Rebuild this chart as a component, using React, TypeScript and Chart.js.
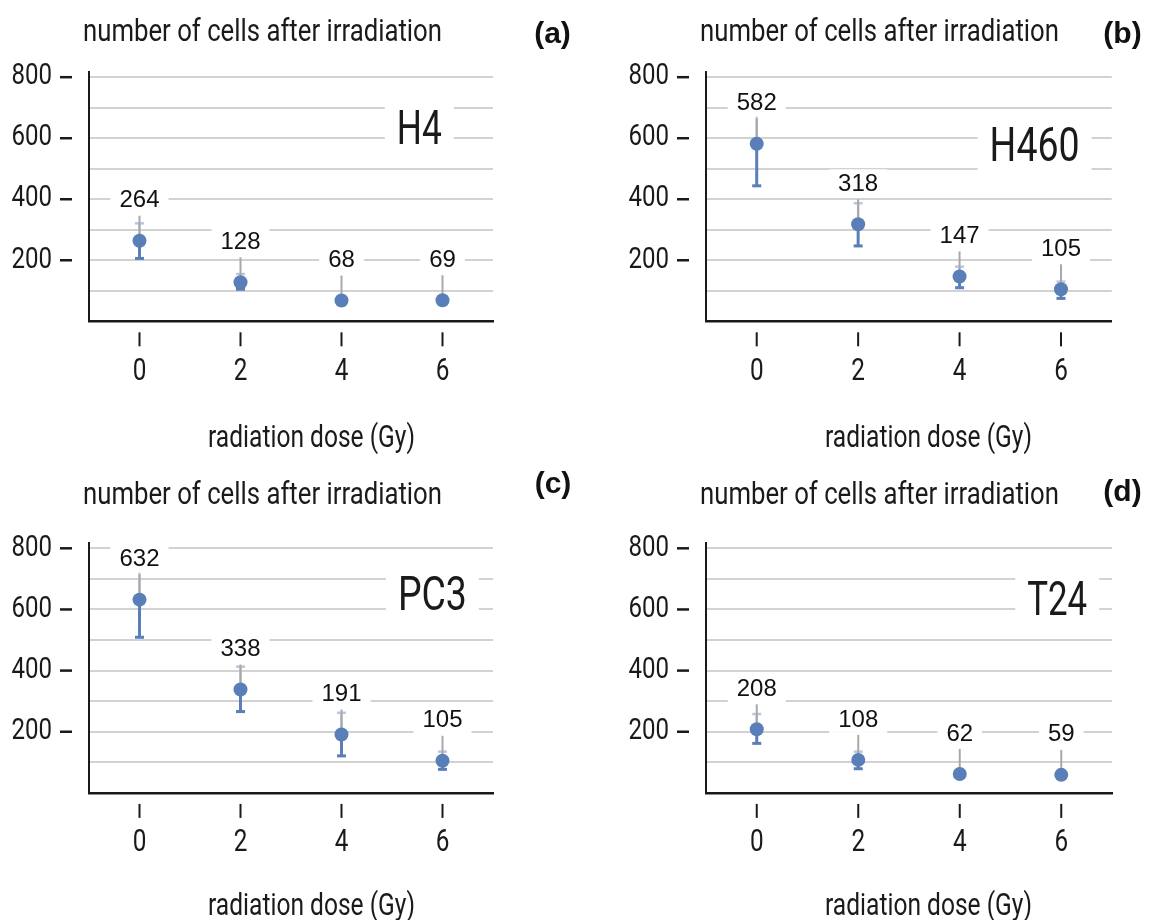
import React, { useEffect, useRef } from 'react';
import { Chart, registerables } from 'chart.js';

Chart.register(...registerables);

// ---------- data ----------
const doses = ['0', '2', '4', '6'];
const yGridValues = [0, 100, 200, 300, 400, 500, 600, 700, 800];
const yTickLabels = [200, 400, 600, 800];
const yMax = 818;

const h4Values = [264, 128, 68, 69];
const h4Lower = [206, 105, 62, 63];
const h4Upper = [321, 155, 74, 75];

const h460Values = [582, 318, 147, 105];
const h460Lower = [444, 247, 110, 75];
const h460Upper = [700, 387, 179, 130];

const pc3Values = [632, 338, 191, 105];
const pc3Lower = [509, 266, 121, 77];
const pc3Upper = [740, 413, 262, 135];

const t24Values = [208, 108, 62, 59];
const t24Lower = [162, 79, 57, 54];
const t24Upper = [258, 135, 67, 64];

const cellLines = ['H4', 'H460', 'PC3', 'T24'];
const panelLetters = ['(a)', '(b)', '(c)', '(d)'];
const yCaption = 'number of cells after irradiation';
const xCaption = 'radiation dose (Gy)';

const seriesValues = [h4Values, h460Values, pc3Values, t24Values];
const seriesLower = [h4Lower, h460Lower, pc3Lower, t24Lower];
const seriesUpper = [h4Upper, h460Upper, pc3Upper, t24Upper];

// ---------- layout / style ----------
const COND = "Roboto, 'Liberation Sans', sans-serif";
const ARIAL = "'Liberation Sans', Arial, sans-serif";
const INK = '#1a1a1a';
const BLUE = '#5a7eb8';
const BLUE_LIGHT = '#b9c7de';
const GRID = '#d2d2d2';
const LEADER = '#a8a8a8';

const CW = 575;
const CH = 460;

const captionWidth = 359;
const xTitleWidth = 207;
const nameWidths = [45, 90, 69, 60];
const yTickSqueeze = 0.83;
const xTickSqueeze = 0.76;

const layouts = [
  { left: 0, top: 0, pad: { left: 89, right: 82, top: 71.7, bottom: 138.7 }, caption: [83, 41], xTitle: [311.5, 446.5], letter: [552.5, 35], name: [2.77, 637] },
  { left: 575, top: 0, pad: { left: 131, right: 38.3, top: 71.7, bottom: 138.7 }, caption: [125, 41], xTitle: [353.5, 446.5], letter: [547.5, 35], name: [2.74, 581] },
  { left: 0, top: 460, pad: { left: 89, right: 82, top: 82.8, bottom: 127.1 }, caption: [83, 44], xTitle: [311.5, 454.5], letter: [553, 25], name: [2.9, 653] },
  { left: 575, top: 460, pad: { left: 131, right: 38, top: 82.8, bottom: 127.1 }, caption: [125, 44], xTitle: [353.5, 454.5], letter: [547.5, 33], name: [2.96, 639] },
];

function line(ctx: CanvasRenderingContext2D, x1: number, y1: number, x2: number, y2: number) {
  ctx.beginPath();
  ctx.moveTo(x1, y1);
  ctx.lineTo(x2, y2);
  ctx.stroke();
}

// draw text squeezed horizontally to a target width
function fitText(ctx: CanvasRenderingContext2D, text: string, x: number, y: number, align: CanvasTextAlign, targetW: number) {
  const w = ctx.measureText(text).width;
  const sx = targetW / w;
  ctx.save();
  ctx.translate(x, y);
  ctx.scale(sx, 1);
  ctx.textAlign = align;
  ctx.fillText(text, 0, 0);
  ctx.restore();
}

// tick labels positioned by the scale, rendered condensed
function condenseLabels(scale: any, sx: number) {
  if (scale.__condensed) return;
  scale.__condensed = true;
  scale.drawLabels = function (chartArea: any) {
    const ctx = this.ctx;
    const items = this.getLabelItems(chartArea);
    for (const item of items) {
      const o = item.options;
      if (!item.label) continue;
      ctx.save();
      ctx.translate(o.translation[0], o.translation[1]);
      ctx.scale(sx, 1);
      ctx.font = item.font.string;
      ctx.fillStyle = o.color;
      ctx.textAlign = o.textAlign;
      ctx.textBaseline = o.textBaseline;
      ctx.fillText(String(item.label), 0, item.textOffset);
      ctx.restore();
    }
  };
}

function makePlugin(idx: number) {
  const L = layouts[idx];
  const values = seriesValues[idx];
  const lower = seriesLower[idx];
  const upper = seriesUpper[idx];
  return {
    id: 'decor' + idx,
    beforeDraw(chart: any) {
      condenseLabels(chart.scales.y, yTickSqueeze);
      condenseLabels(chart.scales.x, xTickSqueeze);
    },
    beforeDatasetsDraw(chart: any) {
      const { ctx, chartArea: ca, scales } = chart;
      const x = scales.x;
      const y = scales.y;
      ctx.save();
      // y tick dashes
      ctx.strokeStyle = INK;
      ctx.lineWidth = 2.5;
      yTickLabels.forEach((v) => {
        const py = y.getPixelForValue(v);
        line(ctx, ca.left - 29, py, ca.left - 17, py);
      });
      // x tick marks (detached)
      ctx.lineWidth = 2;
      doses.forEach((_d, i) => {
        const px = x.getPixelForValue(i);
        line(ctx, px, ca.bottom + 11, px, ca.bottom + 25);
      });
      // cell line name with white box
      ctx.font = `48px ${COND}`;
      const nx = x.getPixelForValue(L.name[0]);
      const ny = y.getPixelForValue(L.name[1]);
      const nw = nameWidths[idx];
      ctx.fillStyle = '#ffffff';
      ctx.fillRect(nx - nw / 2 - 12, ny - 27, nw + 24, 54);
      ctx.fillStyle = INK;
      ctx.textBaseline = 'alphabetic';
      fitText(ctx, cellLines[idx], nx, ny + 17, 'center', nw);
      // error bars + leader lines
      values.forEach((v, i) => {
        const px = x.getPixelForValue(i);
        const py = y.getPixelForValue(v);
        const pl = y.getPixelForValue(lower[i]);
        const pu = y.getPixelForValue(upper[i]);
        ctx.strokeStyle = BLUE_LIGHT;
        ctx.lineWidth = 2.5;
        line(ctx, px, py, px, pu);
        line(ctx, px - 4.5, pu, px + 4.5, pu);
        ctx.strokeStyle = BLUE;
        ctx.lineWidth = 3;
        line(ctx, px, py, px, pl);
        line(ctx, px - 4.5, pl, px + 4.5, pl);
        ctx.strokeStyle = LEADER;
        ctx.lineWidth = 2;
        line(ctx, px, py, px, py - 25);
      });
      ctx.restore();
    },
    afterDatasetsDraw(chart: any) {
      const { ctx, scales } = chart;
      const x = scales.x;
      const y = scales.y;
      ctx.save();
      ctx.font = `24px ${ARIAL}`;
      ctx.textAlign = 'center';
      ctx.textBaseline = 'middle';
      values.forEach((v, i) => {
        const px = x.getPixelForValue(i);
        const py = y.getPixelForValue(v) - 41;
        const t = String(v);
        const w = ctx.measureText(t).width;
        ctx.fillStyle = '#ffffff';
        ctx.fillRect(px - w / 2 - 9, py - 14, w + 18, 28);
        ctx.fillStyle = '#111111';
        ctx.fillText(t, px, py + 1);
      });
      ctx.restore();
    },
    afterDraw(chart: any) {
      const { ctx } = chart;
      ctx.save();
      ctx.fillStyle = INK;
      ctx.textBaseline = 'alphabetic';
      ctx.font = `31px ${COND}`;
      fitText(ctx, yCaption, L.caption[0], L.caption[1], 'left', captionWidth);
      fitText(ctx, xCaption, L.xTitle[0], L.xTitle[1], 'center', xTitleWidth);
      ctx.font = `bold 30px ${ARIAL}`;
      ctx.textAlign = 'center';
      ctx.textBaseline = 'middle';
      ctx.fillStyle = '#111111';
      ctx.fillText(panelLetters[idx], L.letter[0], L.letter[1]);
      ctx.restore();
    },
  };
}

function Panel({ idx }: { idx: number }) {
  const ref = useRef<HTMLCanvasElement | null>(null);
  useEffect(() => {
    if (!ref.current) return;
    const L = layouts[idx];
    const chart = new Chart(ref.current, {
      type: 'line',
      data: {
        labels: doses,
        datasets: [
          {
            label: cellLines[idx],
            data: seriesValues[idx],
            showLine: false,
            pointRadius: 7,
            pointHoverRadius: 7,
            pointBackgroundColor: BLUE,
            pointBorderWidth: 0,
            borderColor: BLUE,
          },
        ],
      },
      options: {
        responsive: false,
        animation: false,
        events: [],
        layout: { padding: L.pad },
        plugins: { legend: { display: false }, title: { display: false }, tooltip: { enabled: false } },
        scales: {
          x: {
            type: 'category',
            offset: true,
            afterFit: (s: any) => { s.height = 0; },
            grid: { display: false, drawTicks: false },
            border: { display: true, color: INK, width: 2.5 },
            ticks: { padding: 31, color: INK, font: { family: COND, size: 32 } },
          },
          y: {
            min: 0,
            max: yMax,
            afterFit: (s: any) => { s.width = 0; },
            afterBuildTicks: (s: any) => { s.ticks = yGridValues.map((v) => ({ value: v })); },
            grid: {
              drawTicks: false,
              lineWidth: 2,
              color: (c: any) => (c.tick && c.tick.value > 0 ? GRID : 'rgba(0,0,0,0)'),
            },
            border: { display: true, color: INK, width: 2 },
            ticks: {
              autoSkip: false,
              padding: 37,
              color: INK,
              font: { family: COND, size: 29 },
              callback: (v: any) => (yTickLabels.includes(Number(v)) ? String(v) : ''),
            },
          },
        },
      },
      plugins: [makePlugin(idx)],
    } as any);
    return () => chart.destroy();
  }, [idx]);
  const L = layouts[idx];
  return (
    <div style={{ position: 'absolute', left: L.left, top: L.top, width: CW, height: CH }}>
      <canvas ref={ref} width={CW} height={CH} style={{ display: 'block' }} />
    </div>
  );
}

export default function App() {
  return (
    <div style={{ position: 'absolute', left: 0, top: 0, width: 1150, height: 920, overflow: 'hidden', background: '#ffffff' }}>
      {[0, 1, 2, 3].map((i) => (
        <Panel key={i} idx={i} />
      ))}
    </div>
  );
}
